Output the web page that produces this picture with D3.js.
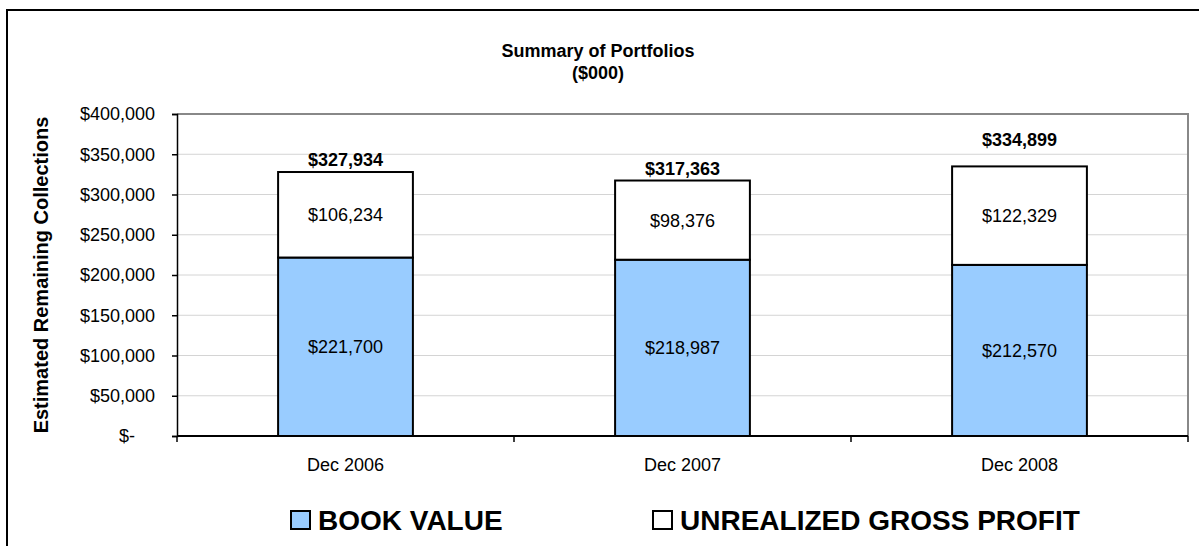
<!DOCTYPE html>
<html>
<head>
<meta charset="utf-8">
<script src="https://cdn.jsdelivr.net/npm/d3@7"></script>
<style>
  body { margin: 0; background: #fff; }
  svg { display: block; font-family: 'Liberation Sans', Arial, sans-serif; }
</style>
</head>
<body>
<div id="chart"></div>
<script>
const periods = ['Dec 2006', 'Dec 2007', 'Dec 2008'];
const bookValue = [221700, 218987, 212570];
const unrealizedProfit = [106234, 98376, 122329];
const totals = [327934, 317363, 334899];
const yTicks = [0, 50000, 100000, 150000, 200000, 250000, 300000, 350000, 400000];
const seriesNames = ['BOOK VALUE', 'UNREALIZED GROSS PROFIT'];

// how far each total label sits above its bar (hand placed in the original)
const totalLift = [6, 6, 20];

const size = { width: 1199, height: 546 };
const margin = { top: 114, right: 11, bottom: 110, left: 177 };
const colors = ['#99ccff', '#ffffff'];

const container = d3.select('#chart');
container.selectAll('*').remove();

const svg = container
  .append('svg')
  .attr('width', size.width)
  .attr('height', size.height);

// outer chart border
svg
  .append('rect')
  .attr('x', 7)
  .attr('y', 10)
  .attr('width', 1250)
  .attr('height', 600)
  .attr('fill', '#fff')
  .attr('stroke', '#000')
  .attr('stroke-width', 2);

const x = d3
  .scaleBand()
  .domain(periods)
  .range([margin.left, size.width - margin.right])
  .paddingInner(0.6)
  .paddingOuter(0.3);

const y = d3
  .scaleLinear()
  .domain([0, 400000])
  .range([size.height - margin.bottom, margin.top]);

const fmt = d3.format('$,');

// title
svg
  .append('text')
  .attr('x', 598)
  .attr('y', 57)
  .attr('text-anchor', 'middle')
  .attr('font-weight', 'bold')
  .attr('font-size', 18)
  .text('Summary of Portfolios');
svg
  .append('text')
  .attr('x', 598)
  .attr('y', 79)
  .attr('text-anchor', 'middle')
  .attr('font-weight', 'bold')
  .attr('font-size', 18)
  .text('($000)');

// gridlines
yTicks.slice(1, -1).forEach((v) => {
  svg
    .append('line')
    .attr('x1', margin.left)
    .attr('x2', size.width - margin.right)
    .attr('y1', y(v))
    .attr('y2', y(v))
    .attr('stroke', '#d4d4d4')
    .attr('stroke-width', 1);
});

// plot area frame (top + right in grey)
svg
  .append('path')
  .attr(
    'd',
    `M ${margin.left} ${y(400000)} H ${size.width - margin.right} V ${y(0)}`,
  )
  .attr('fill', 'none')
  .attr('stroke', '#888')
  .attr('stroke-width', 2);

// stacked bars
const stack = periods.map((p, i) => [
  { period: p, y0: 0, y1: bookValue[i], value: bookValue[i], s: 0 },
  {
    period: p,
    y0: bookValue[i],
    y1: bookValue[i] + unrealizedProfit[i],
    value: unrealizedProfit[i],
    s: 1,
  },
]);

const segs = svg
  .selectAll('g.bar')
  .data(stack)
  .enter()
  .append('g')
  .attr('class', 'bar')
  .selectAll('rect')
  .data((d) => d)
  .enter();

segs
  .append('rect')
  .attr('x', (d) => x(d.period))
  .attr('width', x.bandwidth())
  .attr('y', (d) => y(d.y1))
  .attr('height', (d) => y(d.y0) - y(d.y1))
  .attr('fill', (d) => colors[d.s])
  .attr('stroke', '#000')
  .attr('stroke-width', 2);

segs
  .append('text')
  .attr('x', (d) => x(d.period) + x.bandwidth() / 2)
  .attr('y', (d) => (y(d.y0) + y(d.y1)) / 2)
  .attr('dy', '0.36em')
  .attr('text-anchor', 'middle')
  .attr('font-size', 18)
  .text((d) => fmt(d.value));

// totals
svg
  .selectAll('text.total')
  .data(totals)
  .enter()
  .append('text')
  .attr('class', 'total')
  .attr('x', (d, i) => x(periods[i]) + x.bandwidth() / 2)
  .attr('y', (d, i) => y(d) - totalLift[i])
  .attr('text-anchor', 'middle')
  .attr('font-weight', 'bold')
  .attr('font-size', 18)
  .text((d) => fmt(d));

// y axis
const yAxis = svg
  .append('g')
  .attr('transform', `translate(${margin.left},0)`)
  .call(
    d3
      .axisLeft(y)
      .tickValues(yTicks)
      .tickSize(5)
      .tickPadding(17)
      .tickFormat((d) => (d === 0 ? '$-' : fmt(d))),
  );
yAxis.select('.domain').attr('stroke', '#000').attr('stroke-width', 1.5);
yAxis.selectAll('.tick line').attr('stroke', '#000').attr('stroke-width', 1.5);
yAxis
  .selectAll('.tick text')
  .attr('font-size', 18)
  .attr('font-family', 'Liberation Sans, Arial, sans-serif')
  .attr('fill', '#000')
  .attr('dx', (d) => (d === 0 ? -20 : 0));

// x axis
const bounds = periods.map((p) => x(p) - (x.step() - x.bandwidth()) / 2);
bounds.push(size.width - margin.right);
svg
  .append('line')
  .attr('x1', margin.left)
  .attr('x2', size.width - margin.right)
  .attr('y1', y(0))
  .attr('y2', y(0))
  .attr('stroke', '#000')
  .attr('stroke-width', 2);
bounds.forEach((bx) => {
  svg
    .append('line')
    .attr('x1', bx)
    .attr('x2', bx)
    .attr('y1', y(0))
    .attr('y2', y(0) + 6)
    .attr('stroke', '#000')
    .attr('stroke-width', 1.5);
});
svg
  .selectAll('text.cat')
  .data(periods)
  .enter()
  .append('text')
  .attr('class', 'cat')
  .attr('x', (d) => x(d) + x.bandwidth() / 2)
  .attr('y', y(0) + 35)
  .attr('text-anchor', 'middle')
  .attr('font-size', 18)
  .text((d) => d);

// y title
svg
  .append('text')
  .attr('transform', `translate(48, ${(y(0) + y(400000)) / 2}) rotate(-90)`)
  .attr('text-anchor', 'middle')
  .attr('font-weight', 'bold')
  .attr('font-size', 20)
  .text('Estimated Remaining Collections');

// legend
const legendX = [291, 653];
seriesNames.forEach((name, i) => {
  svg
    .append('rect')
    .attr('x', legendX[i])
    .attr('y', 511)
    .attr('width', 19)
    .attr('height', 18)
    .attr('fill', colors[i])
    .attr('stroke', '#000')
    .attr('stroke-width', 2);
  svg
    .append('text')
    .attr('x', legendX[i] + 27)
    .attr('y', 530)
    .attr('font-weight', 'bold')
    .attr('font-size', 28)
    .text(name);
});
</script>
</body>
</html>
